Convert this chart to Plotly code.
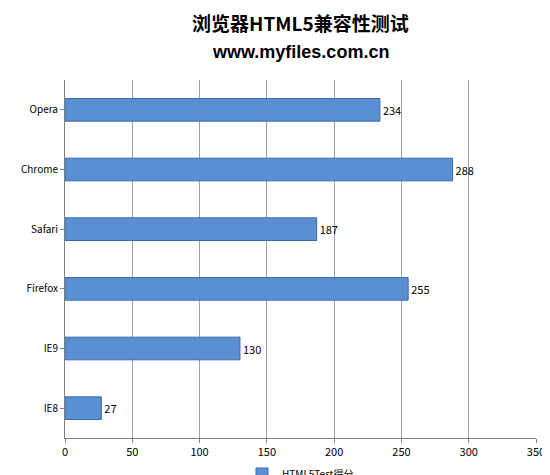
import plotly.graph_objects as go

browsers = ["IE8", "IE9", "Firefox", "Safari", "Chrome", "Opera"]
scores = [27, 130, 255, 187, 288, 234]
x_ticks = [0, 50, 100, 150, 200, 250, 300, 350]

fig = go.Figure()
fig.add_trace(go.Bar(
    y=browsers, x=scores, orientation="h", name="HTML5Test得分",
    marker=dict(color="#5B8FD3", line=dict(color="#3A6AAE", width=1)),
    text=[str(s) for s in scores], textposition="outside",
    textfont=dict(size=11, color="#000"), width=0.38, cliponaxis=False,
))
fig.add_annotation(text="<b>浏览器HTML5兼容性测试</b>", xref="paper", yref="paper",
                   x=0.5, y=1, yshift=58, xanchor="center", yanchor="middle", showarrow=False,
                   font=dict(size=19, color="#000", family="Noto Sans CJK SC"))
fig.add_annotation(text="<b>www.myfiles.com.cn</b>", xref="paper", yref="paper",
                   x=0.5, y=1, yshift=28, xanchor="center", yanchor="middle", showarrow=False,
                   font=dict(size=18, color="#000", family="Liberation Sans"))
fig.update_layout(
    width=550, height=475, paper_bgcolor="white", plot_bgcolor="white",
    margin=dict(l=57, r=22, t=72, b=45, autoexpand=False),
    xaxis=dict(range=[0, 350], tickvals=x_ticks, showgrid=True, gridcolor="#A0A0A0",
               gridwidth=1, showline=True, linecolor="#808080", ticks="outside",
               ticklen=4, tickcolor="#808080", tickfont=dict(size=11, color="#000"), zeroline=False),
    yaxis=dict(showline=True, linecolor="#808080", ticks="outside", ticklen=4, automargin=False,
               tickcolor="#808080", tickfont=dict(size=10, color="#000")),
    showlegend=True,
    legend=dict(orientation="h", x=0.5, xanchor="center", y=-0.06, yanchor="top",
                font=dict(size=10, color="#000")),
    font=dict(family="Noto Sans CJK SC"),
)
fig.write_html("out.html")
